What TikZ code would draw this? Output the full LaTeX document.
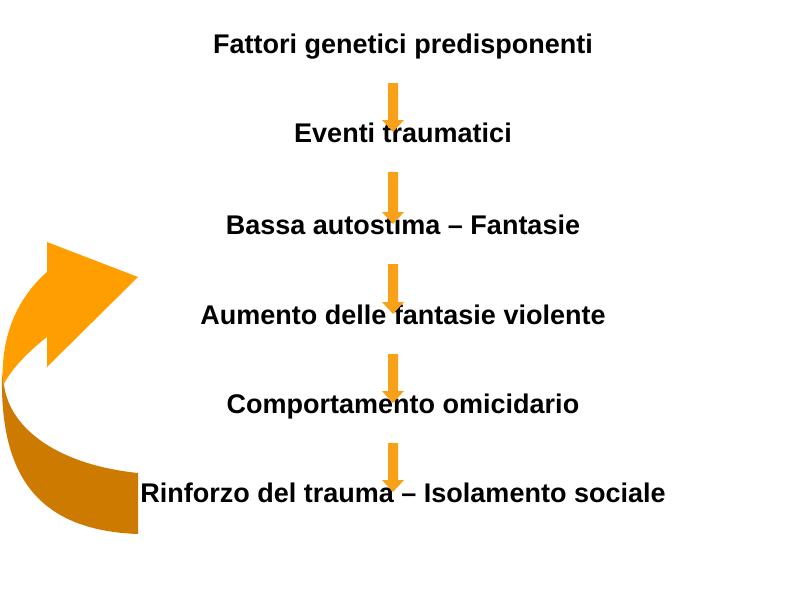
\documentclass[tikz,border=0pt]{standalone}
\usepackage{fontspec}
\setmainfont{Liberation Sans}
\usetikzlibrary{calc}
\definecolor{lightor}{RGB}{255,158,0}
\definecolor{darkor}{RGB}{204,122,0}
\definecolor{arrowor}{RGB}{248,160,24}
\tikzset{
  label/.style={anchor=base, inner sep=0pt, font=\fontsize{27}{32}\selectfont\bfseries},
  downarr/.style={fill=arrowor},
}
\newcommand\orarrow[2]{%
  \fill[downarr] ($(#1.base)+(-15,30)$) -- ($(#1.base)+(-5,30)$)
    -- ($(#2.base)+(-5,-22)$) -- ($(#2.base)+(1,-22)$)
    -- ($(#2.base)+(-10,-10)$) -- ($(#2.base)+(-21,-22)$)
    -- ($(#2.base)+(-15,-22)$) -- cycle;}
\begin{document}
\begin{tikzpicture}[x=1pt,y=-1pt]
\useasboundingbox (0,0) rectangle (794,595);
\fill[white] (0,0) rectangle (794,595);
% curved arrow
\fill[darkor] (2,372) .. controls (0,460) and (25,530) .. (138,534)
  -- (138,473) .. controls (60,465) and (10,430) .. (4,385) -- cycle;
\fill[lightor] (47,242) -- (138,277) -- (47,367) -- (47,337)
  .. controls (30,350) and (10,370) .. (3,386)
  .. controls (0,340) and (15,300) .. (47,272) -- cycle;
% texts
\node[label] (t1) at (403,53) {Fattori genetici predisponenti};
\node[label] (t2) at (403,142) {Eventi traumatici};
\node[label] (t3) at (403,234) {Bassa autostima – Fantasie};
\node[label] (t4) at (403,324) {Aumento delle fantasie violente};
\node[label] (t5) at (403,413) {Comportamento omicidario};
\node[label] (t6) at (403,502) {Rinforzo del trauma – Isolamento sociale};
% arrows
\orarrow{t1}{t2}
\orarrow{t2}{t3}
\orarrow{t3}{t4}
\orarrow{t4}{t5}
\orarrow{t5}{t6}
\end{tikzpicture}
\end{document}
